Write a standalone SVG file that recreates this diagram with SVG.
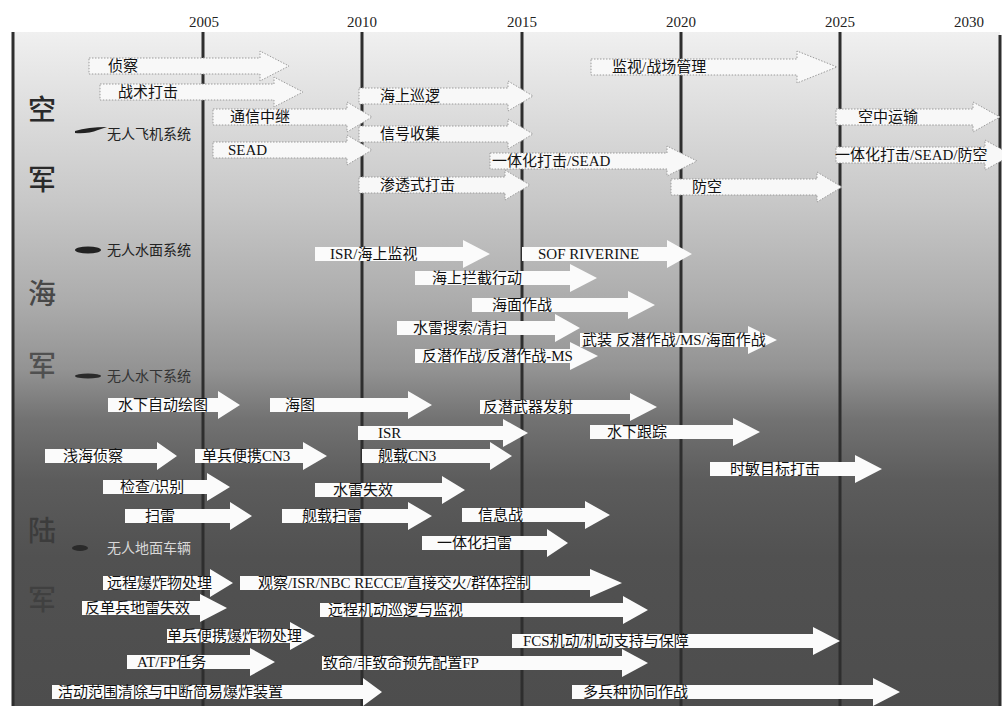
<svg xmlns="http://www.w3.org/2000/svg" width="1002" height="710" viewBox="0 0 1002 710">
<defs>
<linearGradient id="bg" x1="0" y1="32" x2="0" y2="706" gradientUnits="userSpaceOnUse">
<stop offset="0" stop-color="#f0f0f0"/>
<stop offset="0.10" stop-color="#e0e0e0"/>
<stop offset="0.25" stop-color="#c8c8c8"/>
<stop offset="0.40" stop-color="#acacac"/>
<stop offset="0.50" stop-color="#939393"/>
<stop offset="0.575" stop-color="#727272"/>
<stop offset="0.665" stop-color="#5c5c5c"/>
<stop offset="0.78" stop-color="#515151"/>
<stop offset="1" stop-color="#4d4d4d"/>
</linearGradient>
</defs>
<style>
.yr{font-family:"Liberation Serif","Noto Sans CJK SC",serif;font-size:15px;fill:#222;text-anchor:middle}
.grid{stroke:#2e2e2e;stroke-width:3;fill:none}
.arr{fill:#fbfbfb;stroke:none}
.air{fill:#f8f8f8;stroke:#9a9a9a;stroke-width:1;stroke-dasharray:1.5 1.5}
.lbl{font-family:"Liberation Serif","Noto Sans CJK SC",serif;font-size:15px;fill:#111}
.big{font-family:"Noto Sans CJK SC",serif;font-size:28px;font-weight:500}
.sys{font-family:"Liberation Serif","Noto Sans CJK SC",serif;font-size:14px}
</style>
<rect x="0" y="0" width="1002" height="710" fill="#ffffff"/>
<rect x="13" y="32" width="987" height="674" fill="url(#bg)"/>

<g id="timeline">
<line class="grid" x1="13" y1="32" x2="13" y2="706"/>
<line class="grid" x1="203" y1="32" x2="203" y2="706"/>
<line class="grid" x1="362" y1="32" x2="362" y2="706"/>
<line class="grid" x1="522" y1="32" x2="522" y2="706"/>
<line class="grid" x1="681" y1="32" x2="681" y2="706"/>
<line class="grid" x1="840" y1="32" x2="840" y2="706"/>
<line class="grid" x1="1000" y1="35" x2="1000" y2="706"/>
<text class="yr" x="204" y="27">2005</text>
<text class="yr" x="362" y="27">2010</text>
<text class="yr" x="522" y="27">2015</text>
<text class="yr" x="681" y="27">2020</text>
<text class="yr" x="840" y="27">2025</text>
<text class="yr" x="969" y="27">2030</text>
</g>

<g id="branches">
<text class="big" x="28" y="120" fill="#2a2a2a">空</text>
<text class="big" x="28" y="190" fill="#2a2a2a">军</text>
<text class="big" x="28" y="304" fill="#484848">海</text>
<text class="big" x="28" y="376" fill="#505050">军</text>
<text class="big" x="28" y="541" fill="#3c3c3c">陆</text>
<text class="big" x="28" y="610" fill="#404040">军</text>
</g>

<g id="sys-uav">
<path d="M75,131 Q88,127 107,127 L98,130 Q88,134 75,133 Z" fill="#222"/>
<text class="sys" x="107" y="139" fill="#222">无人飞机系统</text>
</g>
<g id="sys-usv">
<ellipse cx="88" cy="250" rx="13" ry="3.5" fill="#222"/>
<text class="sys" x="107" y="255" fill="#222">无人水面系统</text>
</g>
<g id="sys-uuv">
<ellipse cx="88" cy="376" rx="13" ry="2.5" fill="#2a2a2a"/>
<text class="sys" x="107" y="381" fill="#333">无人水下系统</text>
</g>
<g id="sys-ugv">
<ellipse cx="80" cy="548" rx="8" ry="3" fill="#2a2a2a"/>
<text class="sys" x="107" y="553" fill="#d8d8d8">无人地面车辆</text>
</g>

<g id="a01"><path class="air" d="M89,58 H260 V51 L289,66 L260,81 V74 H89 Z"/><text class="lbl" x="108" y="71">侦察</text></g>
<g id="a02"><path class="air" d="M100,84 H274 V77 L303,92 L274,107 V100 H100 Z"/><text class="lbl" x="118" y="97">战术打击</text></g>
<g id="a03"><path class="air" d="M213,109 H347 V102 L372,117 L347,132 V125 H213 Z"/><text class="lbl" x="230" y="122">通信中继</text></g>
<g id="a04"><path class="air" d="M213,142 H347 V135 L372,150 L347,165 V158 H213 Z"/><text class="lbl" x="228" y="155">SEAD</text></g>
<g id="a05"><path class="air" d="M359,88 H508 V81 L533,96 L508,111 V104 H359 Z"/><text class="lbl" x="380" y="101">海上巡逻</text></g>
<g id="a06"><path class="air" d="M359,126 H508 V119 L533,134 L508,149 V142 H359 Z"/><text class="lbl" x="380" y="139">信号收集</text></g>
<g id="a07"><path class="air" d="M359,177 H505 V170 L530,185 L505,200 V193 H359 Z"/><text class="lbl" x="380" y="190">渗透式打击</text></g>
<g id="a08"><path class="air" d="M490,153 H667 V146 L697,161 L667,176 V169 H490 Z"/><text class="lbl" x="492" y="166">一体化打击/SEAD</text></g>
<g id="a09"><path class="air" d="M591,59 H797 V51 L837,67 L797,83 V75 H591 Z"/><text class="lbl" x="612" y="72">监视/战场管理</text></g>
<g id="a10"><path class="air" d="M836,109 H973 V102 L1000,117 L973,132 V125 H836 Z"/><text class="lbl" x="858" y="122">空中运输</text></g>
<g id="a11"><path class="air" d="M836,147 H985 V140 L1012,155 L985,170 V163 H836 Z"/><text class="lbl" x="835" y="160">一体化打击/SEAD/防空</text></g>
<g id="a12"><path class="air" d="M671,179 H817 V172 L842,187 L817,202 V195 H671 Z"/><text class="lbl" x="692" y="192">防空</text></g>

<g id="a13"><path class="arr" d="M315,247 H463 V240 L490,254 L463,268 V261 H315 Z"/><text class="lbl" x="330" y="259">ISR/海上监视</text></g>
<g id="a14"><path class="arr" d="M522,247 H667 V240 L692,254 L667,268 V261 H522 Z"/><text class="lbl" x="538" y="259">SOF RIVERINE</text></g>
<g id="a15"><path class="arr" d="M415,271 H570 V264 L597,278 L570,292 V285 H415 Z"/><text class="lbl" x="432" y="283">海上拦截行动</text></g>
<g id="a16"><path class="arr" d="M472,298 H628 V291 L655,305 L628,319 V312 H472 Z"/><text class="lbl" x="492" y="310">海面作战</text></g>
<g id="a17"><path class="arr" d="M397,321 H555 V314 L580,328 L555,342 V335 H397 Z"/><text class="lbl" x="413" y="333">水雷搜索/清扫</text></g>
<g id="a18"><path class="arr" d="M580,333 H748 V326 L777,340 L748,354 V347 H580 Z"/><text class="lbl" x="582" y="345">武装 反潜作战/MS/海面作战</text></g>
<g id="a19"><path class="arr" d="M415,349 H570 V342 L598,356 L570,370 V363 H415 Z"/><text class="lbl" x="422" y="361">反潜作战/反潜作战-MS</text></g>

<g id="a20"><path class="arr" d="M108,398 H218 V391 L240,405 L218,419 V412 H108 Z"/><text class="lbl" x="118" y="410">水下自动绘图</text></g>
<g id="a21"><path class="arr" d="M270,398 H408 V391 L432,405 L408,419 V412 H270 Z"/><text class="lbl" x="285" y="410">海图</text></g>
<g id="a22"><path class="arr" d="M480,400 H630 V393 L657,407 L630,421 V414 H480 Z"/><text class="lbl" x="483" y="412">反潜武器发射</text></g>
<g id="a23"><path class="arr" d="M358,426 H503 V419 L528,433 L503,447 V440 H358 Z"/><text class="lbl" x="378" y="438">ISR</text></g>
<g id="a24"><path class="arr" d="M590,425 H733 V418 L760,432 L733,446 V439 H590 Z"/><text class="lbl" x="607" y="437">水下跟踪</text></g>
<g id="a25"><path class="arr" d="M45,449 H157 V442 L177,456 L157,470 V463 H45 Z"/><text class="lbl" x="63" y="461">浅海侦察</text></g>
<g id="a26"><path class="arr" d="M195,449 H303 V442 L327,456 L303,470 V463 H195 Z"/><text class="lbl" x="202" y="461">单兵便携CN3</text></g>
<g id="a27"><path class="arr" d="M362,449 H490 V442 L512,456 L490,470 V463 H362 Z"/><text class="lbl" x="378" y="461">舰载CN3</text></g>
<g id="a28"><path class="arr" d="M710,462 H855 V455 L882,469 L855,483 V476 H710 Z"/><text class="lbl" x="730" y="474">时敏目标打击</text></g>
<g id="a29"><path class="arr" d="M103,480 H207 V473 L230,487 L207,501 V494 H103 Z"/><text class="lbl" x="120" y="492">检查/识别</text></g>
<g id="a30"><path class="arr" d="M315,483 H442 V476 L465,490 L442,504 V497 H315 Z"/><text class="lbl" x="333" y="495">水雷失效</text></g>
<g id="a31"><path class="arr" d="M125,509 H230 V502 L252,516 L230,530 V523 H125 Z"/><text class="lbl" x="145" y="521">扫雷</text></g>
<g id="a32"><path class="arr" d="M282,509 H408 V502 L432,516 L408,530 V523 H282 Z"/><text class="lbl" x="302" y="521">舰载扫雷</text></g>
<g id="a33"><path class="arr" d="M462,508 H585 V501 L610,515 L585,529 V522 H462 Z"/><text class="lbl" x="478" y="520">信息战</text></g>
<g id="a34"><path class="arr" d="M422,536 H547 V529 L568,543 L547,557 V550 H422 Z"/><text class="lbl" x="437" y="548">一体化扫雷</text></g>

<g id="a35"><path class="arr" d="M103,576 H210 V569 L233,583 L210,597 V590 H103 Z"/><text class="lbl" x="107" y="588">远程爆炸物处理</text></g>
<g id="a36"><path class="arr" d="M240,576 H590 V569 L622,583 L590,597 V590 H240 Z"/><text class="lbl" x="258" y="588">观察/ISR/NBC RECCE/直接交火/群体控制</text></g>
<g id="a37"><path class="arr" d="M82,601 H200 V594 L227,608 L200,622 V615 H82 Z"/><text class="lbl" x="85" y="613">反单兵地雷失效</text></g>
<g id="a38"><path class="arr" d="M320,603 H623 V596 L648,610 L623,624 V617 H320 Z"/><text class="lbl" x="328" y="615">远程机动巡逻与监视</text></g>
<g id="a39"><path class="arr" d="M167,629 H290 V622 L315,636 L290,650 V643 H167 Z"/><text class="lbl" x="167" y="641">单兵便携爆炸物处理</text></g>
<g id="a40"><path class="arr" d="M512,634 H813 V627 L840,641 L813,655 V648 H512 Z"/><text class="lbl" x="523" y="646">FCS机动/机动支持与保障</text></g>
<g id="a41"><path class="arr" d="M127,655 H250 V648 L275,662 L250,676 V669 H127 Z"/><text class="lbl" x="137" y="667">AT/FP任务</text></g>
<g id="a42"><path class="arr" d="M322,656 H622 V649 L648,663 L622,677 V670 H322 Z"/><text class="lbl" x="323" y="668">致命/非致命预先配置FP</text></g>
<g id="a43"><path class="arr" d="M52,685 H363 V678 L382,692 L363,706 V699 H52 Z"/><text class="lbl" x="58" y="697">活动范围清除与中断简易爆炸装置</text></g>
<g id="a44"><path class="arr" d="M572,685 H873 V678 L900,692 L873,706 V699 H572 Z"/><text class="lbl" x="583" y="697">多兵种协同作战</text></g>
</svg>
